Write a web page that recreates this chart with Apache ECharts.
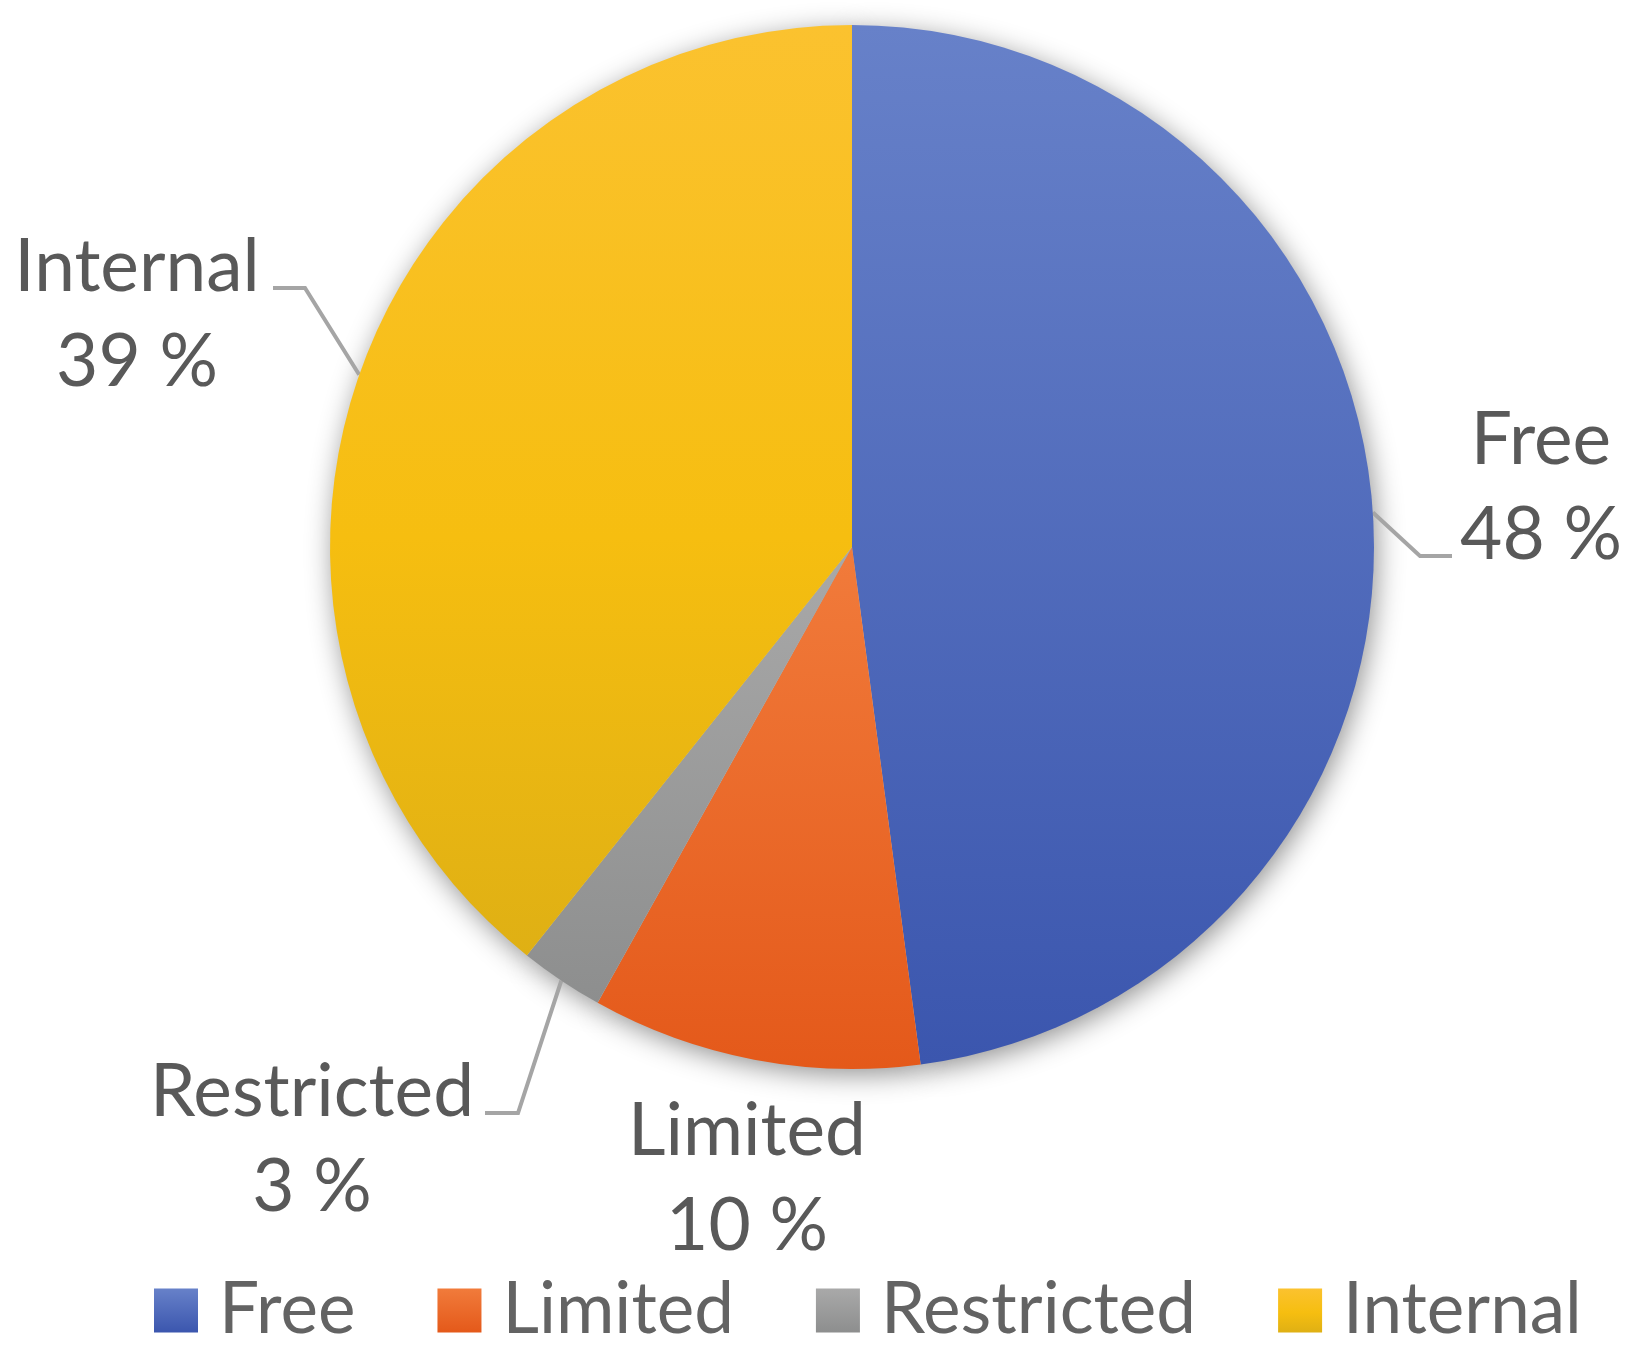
<!DOCTYPE html>
<html>
<head>
<meta charset="utf-8">
<script src="https://cdn.jsdelivr.net/npm/echarts@6/dist/echarts.min.js"></script>
<style>
html, body { margin: 0; padding: 0; background: #fff; }
#main { width: 1634px; height: 1356px; }
</style>
</head>
<body>
<div id="main"></div>
<script>
// access classes and their share (percent)
var categories = ['Free', 'Limited', 'Restricted', 'Internal'];
var shares = [47.9, 10.2, 2.6, 39.3];

// colour ramps, light at the top of the slice to dark at the bottom
var ramps = {
    Free: [[0, '#6781C9'], [1, '#3B56AE']],
    Limited: [[0, '#F17B3B'], [1, '#E4591A']],
    Restricted: [[0, '#A9A9A9'], [1, '#8D8E8E']],
    Internal: [[0, '#FBC22F'], [0.55, '#F6BE10'], [1, '#DFB014']]
};

function ramp(name) {
    return new echarts.graphic.LinearGradient(0, 0, 0, 1, ramps[name].map(function (s) {
        return { offset: s[0], color: s[1] };
    }));
}

// where each data label sits, and the bend of its leader line
var labelSpots = {
    Free:       { x: 1541, y: 488, elbow: [1420, 556], end: [1452, 556] },
    Limited:    { x: 747,  y: 1179 },
    Restricted: { x: 312,  y: 1140, elbow: [518, 1113], end: [485, 1113] },
    Internal:   { x: 137,  y: 315,  elbow: [305, 288],  end: [273, 288] }
};

var font = 'Lato, "Noto Sans", sans-serif';

var slices = categories.map(function (name, i) {
    var d = { name: name, value: shares[i], itemStyle: { color: ramp(name) } };
    if (!labelSpots[name].elbow) d.labelLine = { show: false };
    return d;
});

var shadowSlices = categories.map(function (name, i) {
    return { name: name, value: shares[i] };
});

var chart = echarts.init(document.getElementById('main'));

var option = {
    backgroundColor: '#ffffff',
    animation: false,
    legend: {
        left: 154,
        top: 1275,
        padding: 0,
        itemWidth: 44,
        itemHeight: 44,
        itemGap: 82,
        icon: 'rect',
        selectedMode: false,
        textStyle: {
            fontFamily: font,
            fontSize: 71,
            lineHeight: 70,
            color: '#636363',
            padding: [0, 0, 0, 16]
        },
        data: categories.map(function (name) {
            return { name: name, itemStyle: { color: ramp(name) } };
        })
    },
    series: [
        {
            type: 'pie',
            z: 3,
            center: [852, 547],
            radius: 522,
            avoidLabelOverlap: false,
            label: {
                show: true,
                fontFamily: font,
                fontSize: 73,
                lineHeight: 95,
                color: '#595959',
                align: 'center',
                formatter: function (p) {
                    return p.name + '\n' + Math.round(p.value) + ' %';
                }
            },
            labelLine: {
                show: true,
                lineStyle: { color: '#A5A5A5', width: 4 }
            },
            labelLayout: function (p) {
                var s = labelSpots[categories[p.dataIndex]];
                var out = { x: s.x, y: s.y, align: 'center', verticalAlign: 'middle' };
                if (s.elbow && p.labelLinePoints) {
                    out.labelLinePoints = [p.labelLinePoints[0], s.elbow, s.end];
                }
                return out;
            },
            data: slices
        },
        {
            // same pie underneath, only there to cast the soft drop shadow
            type: 'pie',
            z: 1,
            silent: true,
            center: [852, 547],
            radius: 521,
            label: { show: false },
            labelLine: { show: false },
            itemStyle: {
                color: '#dddddd',
                shadowBlur: 28,
                shadowOffsetX: 3,
                shadowOffsetY: 6,
                shadowColor: 'rgba(0, 0, 0, 0.45)'
            },
            data: shadowSlices
        }
    ]
};

chart.setOption(option);
</script>
</body>
</html>
